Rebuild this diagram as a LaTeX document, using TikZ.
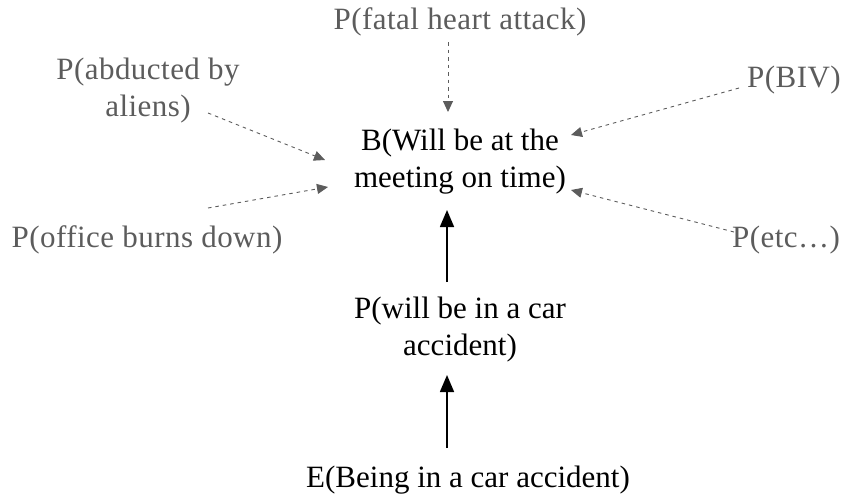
\documentclass[tikz,border=0pt]{standalone}
\usepackage{fontspec}
\setmainfont{Liberation Serif}
\newfontfamily\spacedserif[LetterSpace=1.5]{Liberation Serif}
\usetikzlibrary{arrows.meta}
\definecolor{faint}{gray}{0.36}
\tikzset{
  lbl/.style={align=center, inner sep=0pt},
  weak/.style={lbl, text=faint, font=\spacedserif\fontsize{31}{37}\selectfont},
  strong/.style={lbl, text=black, font=\fontsize{31}{37}\selectfont},
  dasharrow/.style={draw=faint, line width=0.9pt, dash pattern=on 3.5pt off 4pt,
    -{Triangle[length=11pt,width=10pt,fill=faint]}},
  solidarrow/.style={draw=black, line width=1.6pt,
    -{Triangle[length=17pt,width=14pt]}}
}
\begin{document}
\begin{tikzpicture}[x=1pt,y=-1pt]
\useasboundingbox (0,0) rectangle (849,496);
% belief at the centre
\node[strong] (bel) at (460,162) {B(Will be at the\\meeting on time)};
% competing probabilities around it
\node[weak] (fat) at (460,22) {P(fatal heart attack)};
\node[weak] (abd) at (148,91) {P(abducted by\\aliens)};
\node[weak] (biv) at (794,80) {P(BIV)};
\node[weak] (off) at (147,240) {P(office burns down)};
\node[weak] (etc) at (786,240) {P(etc\dots)};
% evidence chain below
\node[strong] (car) at (460,330) {P(will be in a car\\accident)};
\node[strong] (evt) at (468,480) {E(Being in a car accident)};
% dashed influences
\draw[dasharrow] ([shift={(-12,20)}]fat.center) -- ([shift={(-12,-50)}]bel.center);
\draw[dasharrow] ([shift={(60,22)}]abd.center) -- ([shift={(-135,-2)}]bel.center);
\draw[dasharrow] ([shift={(61,-32)}]off.center) -- ([shift={(-132,25)}]bel.center);
\draw[dasharrow] ([shift={(-55,8)}]biv.center) -- ([shift={(111,-27)}]bel.center);
\draw[dasharrow] ([shift={(-52,-8)}]etc.center) -- ([shift={(111,28)}]bel.center);
% solid evidence arrows
\draw[solidarrow] ([shift={(-13,-48)}]car.center) -- ([shift={(-13,48)}]bel.center);
\draw[solidarrow] ([shift={(-21,-32)}]evt.center) -- ([shift={(-13,45)}]car.center);
\end{tikzpicture}
\end{document}
